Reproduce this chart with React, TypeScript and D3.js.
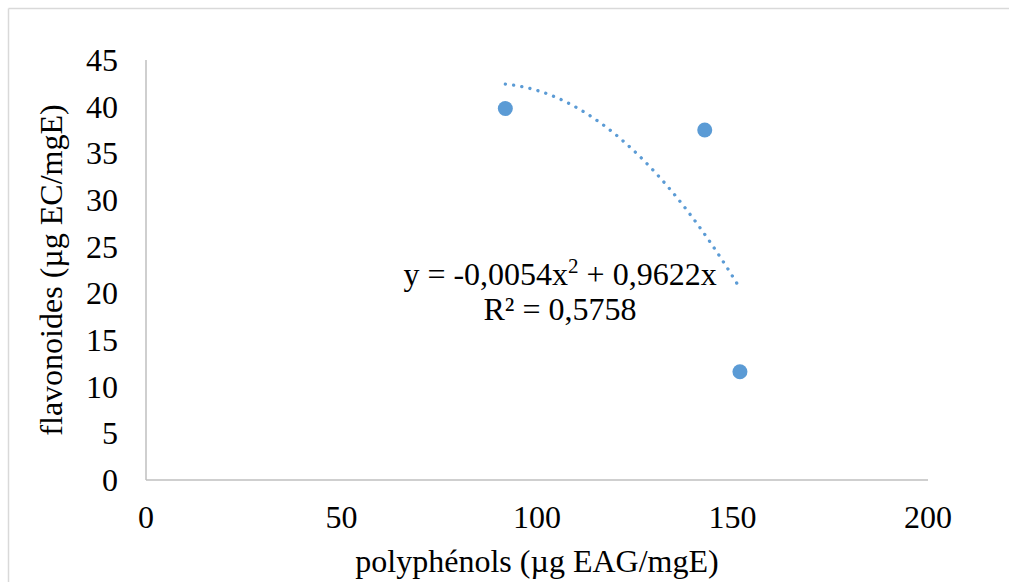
import React, { useRef, useEffect } from 'react';
import * as d3 from 'd3';

// measured points
const polyphenols = [91.9, 142.9, 151.9];
const flavonoides = [39.8, 37.5, 11.6];

const equationText = ['y = -0,0054x', '2', ' + 0,9622x'];
const r2Text = 'R² = 0,5758';

const xTicks = [0, 50, 100, 150, 200];
const yTicks = [0, 5, 10, 15, 20, 25, 30, 35, 40, 45];

const FONT = '"Liberation Serif", "Times New Roman", serif';
const BLUE = '#5B9BD5';

// least squares fit y = a x^2 + b x (intercept fixed at 0, like the chart)
function fitQuadratic(xs: number[], ys: number[]) {
    let s4 = 0, s3 = 0, s2 = 0, sx2y = 0, sxy = 0;
    xs.forEach((xv, i) => {
        s4 += xv ** 4;
        s3 += xv ** 3;
        s2 += xv ** 2;
        sx2y += xv * xv * ys[i];
        sxy += xv * ys[i];
    });
    const det = s4 * s2 - s3 * s3;
    return {
        a: (sx2y * s2 - s3 * sxy) / det,
        b: (s4 * sxy - s3 * sx2y) / det,
    };
}

export default function App() {
    const svgRef = useRef(null);

    useEffect(() => {
        const svg = d3.select(svgRef.current);
        svg.selectAll('*').remove();

        const x = d3.scaleLinear().domain([0, 200]).range([146, 928]);
        const y = d3.scaleLinear().domain([0, 45]).range([480, 60]);

        // chart border (only top and left are inside the window)
        svg.append('line')
            .attr('x1', 8.5).attr('x2', 1009)
            .attr('y1', 8.5).attr('y2', 8.5)
            .attr('stroke', '#d9d9d9').attr('stroke-width', 1.5);
        svg.append('line')
            .attr('x1', 8.5).attr('x2', 8.5)
            .attr('y1', 8.5).attr('y2', 582)
            .attr('stroke', '#d9d9d9').attr('stroke-width', 1.5);

        // axis lines
        svg.append('line')
            .attr('x1', x(0)).attr('x2', x(0))
            .attr('y1', y(45)).attr('y2', y(0))
            .attr('stroke', '#bfbfbf').attr('stroke-width', 1.5);
        svg.append('line')
            .attr('x1', x(0)).attr('x2', x(200))
            .attr('y1', y(0)).attr('y2', y(0))
            .attr('stroke', '#bfbfbf').attr('stroke-width', 1.5);

        // tick labels
        svg.append('g').selectAll('text')
            .data(yTicks)
            .enter()
            .append('text')
            .attr('x', 118)
            .attr('y', d => y(d))
            .attr('dy', '0.34em')
            .attr('text-anchor', 'end')
            .style('font-family', FONT)
            .style('font-size', '32px')
            .text(d => d);

        svg.append('g').selectAll('text')
            .data(xTicks)
            .enter()
            .append('text')
            .attr('x', d => x(d))
            .attr('y', 528)
            .attr('text-anchor', 'middle')
            .style('font-family', FONT)
            .style('font-size', '32px')
            .text(d => d);

        // trendline over the data range
        const { a, b } = fitQuadratic(polyphenols, flavonoides);
        const [x0, x1] = d3.extent(polyphenols);
        const trendData = d3.range(x0, x1 + 0.01, 0.5);
        const line = d3.line()
            .x(d => x(d))
            .y(d => y(a * d * d + b * d));
        svg.append('path')
            .datum(trendData)
            .attr('d', line)
            .attr('fill', 'none')
            .attr('stroke', BLUE)
            .attr('stroke-width', 3.3)
            .attr('stroke-linecap', 'round')
            .attr('stroke-dasharray', '0.1 8.2');

        // points
        svg.append('g').selectAll('circle')
            .data(polyphenols)
            .enter()
            .append('circle')
            .attr('cx', d => x(d))
            .attr('cy', (d, i) => y(flavonoides[i]))
            .attr('r', 7.5)
            .attr('fill', BLUE);

        // equation label
        const eq = svg.append('text')
            .attr('x', 560)
            .attr('y', 285)
            .attr('text-anchor', 'middle')
            .style('font-family', FONT)
            .style('font-size', '32px');
        eq.append('tspan').text(equationText[0]);
        eq.append('tspan').attr('dy', -12).style('font-size', '21px').text(equationText[1]);
        eq.append('tspan').attr('dy', 12).text(equationText[2]);

        svg.append('text')
            .attr('x', 560)
            .attr('y', 320)
            .attr('text-anchor', 'middle')
            .style('font-family', FONT)
            .style('font-size', '32px')
            .text(r2Text);

        // axis titles
        svg.append('text')
            .attr('x', (x(0) + x(200)) / 2)
            .attr('y', 572)
            .attr('text-anchor', 'middle')
            .style('font-family', FONT)
            .style('font-size', '32px')
            .text('polyphénols (µg EAG/mgE)');

        svg.append('text')
            .attr('transform', `translate(62, ${(y(0) + y(45)) / 2}) rotate(-90)`)
            .attr('text-anchor', 'middle')
            .style('font-family', FONT)
            .style('font-size', '32px')
            .text('flavonoides (µg EC/mgE)');
    }, []);

    return (
        <svg
            ref={svgRef}
            width={1009}
            height={582}
            style={{ position: 'absolute', left: 0, top: 0, display: 'block' }}
        ></svg>
    );
}
